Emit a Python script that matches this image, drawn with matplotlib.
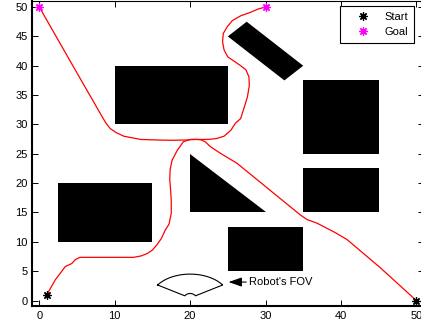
import numpy as np
import matplotlib
matplotlib.use("Agg")
import matplotlib.pyplot as plt
from matplotlib.patches import Polygon

plt.rcParams['font.family'] = ['Liberation Sans', 'DejaVu Sans']

# ---- data ----
starts_x = [1, 50]
starts_y = [1, 0]
goals_x = [0, 30]
goals_y = [50, 50]

# obstacles (polygon vertices)
obs_rect_top_x = [10, 25, 25, 10]
obs_rect_top_y = [30, 30, 40, 40]
obs_rot_x = [25, 27.5, 35, 32.5]
obs_rot_y = [45, 47.5, 40, 37.5]
obs_right_big_x = [35, 45, 45, 35]
obs_right_big_y = [25, 25, 37.5, 37.5]
obs_right_small_x = [35, 45, 45, 35]
obs_right_small_y = [15, 15, 22.5, 22.5]
obs_bottom_x = [25, 35, 35, 25]
obs_bottom_y = [5, 5, 12.5, 12.5]
obs_tri_x = [20, 20, 30]
obs_tri_y = [25, 15, 15]
obs_left_x = [2.5, 15, 15, 2.5]
obs_left_y = [10, 10, 20, 20]

# path from start (1,1) to goal (30,50)
pathA_x = [1, 2.1, 3.45, 4.3, 4.8, 5.4, 7, 10, 12.5, 13.5, 14.3, 15.0, 15.6, 16.2, 16.7, 17.2,
           17.5, 17.5, 17.4, 17.3, 17.35, 17.6, 18.3, 19.1, 20, 21, 22.5, 23.5, 24.5, 25.4, 26,
           26.7, 27.2, 27.6, 27.85, 27.8, 27.4, 26.6, 25.8, 25, 24.5, 24.3, 24.4, 24.9, 25.6,
           26.7, 28, 29.1, 30]
pathA_y = [1, 3.5, 5.8, 6.3, 7.0, 7.36, 7.36, 7.36, 7.36, 7.6, 8.0, 8.6, 9.5, 10.6, 12, 13.0,
           14.9, 17, 19, 20.6, 22.3, 23.9, 25.6, 27.05, 27.45, 27.45, 27.45, 27.6, 28.0, 29.0, 30.2,
           31.0, 33, 34.7, 36.6, 38.1, 39.3, 40.1, 40.8, 41.5, 42.7, 44.1, 45.5, 46.6, 47.7,
           48.5, 49.1, 49.7, 50]

# path from start (50,0) to goal (0,50)
pathB_x = [50, 45.3, 40.8, 39.2, 37.7, 36.8, 35.5, 34.6, 30.4, 26.2, 24, 22.7, 22, 21.4, 20.5,
           19.6, 17.5, 15.6, 13.4, 11.2, 10.2, 9.4, 8.8, 8.07, 4.0, 0]
pathB_y = [0, 5.5, 10.4, 11.6, 12.6, 13.2, 13.8, 14.6, 19.0, 23.4, 25.1, 26.2, 27.05, 27.4, 27.45,
           27.35, 27.3, 27.35, 27.45, 28.0, 28.6, 29.3, 30.3, 31.9, 41.0, 50]

# robot field-of-view sketch (center, radii, half angle)
fov_center = (20.0, 0.3)
fov_outer = (5.2, 4.2)
fov_inner = (0.85, 0.9)
fov_half_angle_deg = 56

# ---- figure ----
fig = plt.figure(figsize=(4.21, 3.26), dpi=100)
ax = fig.add_axes([0.0755, 0.0601, 0.9313, 0.9363])

for xs, ys in [(obs_rect_top_x, obs_rect_top_y), (obs_rot_x, obs_rot_y),
               (obs_right_big_x, obs_right_big_y), (obs_right_small_x, obs_right_small_y),
               (obs_bottom_x, obs_bottom_y), (obs_tri_x, obs_tri_y), (obs_left_x, obs_left_y)]:
    ax.add_patch(Polygon(np.column_stack([xs, ys]), closed=True, facecolor='black',
                         edgecolor='none'))

ax.plot(pathA_x, pathA_y, color='red', lw=0.9)
ax.plot(pathB_x, pathB_y, color='red', lw=0.9)

ast = (8, 2, 0)
ax.plot(starts_x, starts_y, linestyle='none', marker=ast, color='black', ms=6, mew=0.9,
        label='Start', clip_on=False)
ax.plot(goals_x, goals_y, linestyle='none', marker=ast, color='magenta', ms=6, mew=0.9,
        label='Goal', clip_on=False)

# FOV outline
th = np.deg2rad(np.linspace(-fov_half_angle_deg, fov_half_angle_deg, 60))
cx, cy = fov_center
ox = cx + fov_outer[0] * np.sin(th)
oy = cy + fov_outer[1] * np.cos(th)
ix = cx + fov_inner[0] * np.sin(th[::-1])
iy = cy + fov_inner[1] * np.cos(th[::-1])
fx = np.concatenate([ox, ix, ox[:1]])
fy = np.concatenate([oy, iy, oy[:1]])
ax.plot(fx, fy, color='black', lw=0.8)

ax.annotate("Robot's FOV", xy=(25.1, 3.15), xytext=(27.8, 3.15), ha='left', va='center',
            fontsize=8,
            arrowprops=dict(arrowstyle='-|>,head_length=1.0,head_width=0.35', color='black',
                            lw=0.8, shrinkA=0, shrinkB=0))

ax.set_xlim(-1, 51)
ax.set_ylim(-1, 51)
ax.set_xticks([0, 10, 20, 30, 40, 50])
ax.set_yticks(list(range(0, 51, 5)))
ax.tick_params(direction='in', length=4, width=0.7, top=True, right=True, labelsize=8,
               pad=3)
ax.spines['left'].set_linewidth(1.5)
ax.spines['bottom'].set_linewidth(1.5)
ax.spines['top'].set_linewidth(0.8)
ax.spines['right'].set_linewidth(0.8)

leg = ax.legend(loc='upper right', bbox_to_anchor=(0.975, 0.984), borderaxespad=0,
                fontsize=8, fancybox=False, edgecolor='black', framealpha=1,
                handlelength=3.0, handletextpad=0.5, borderpad=0.5, labelspacing=0.5,
                numpoints=1)
leg.get_frame().set_linewidth(0.8)

fig.savefig('out.png', dpi=100)
